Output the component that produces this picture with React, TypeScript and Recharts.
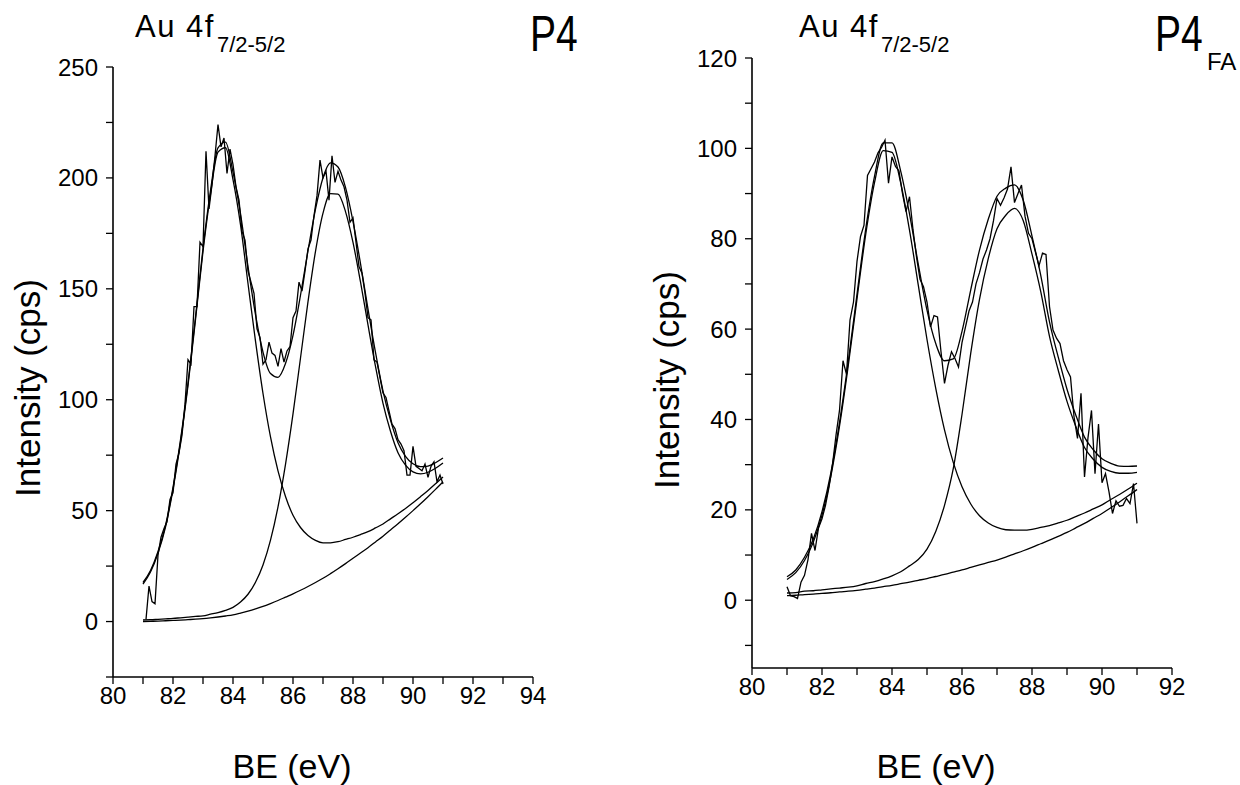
import { LineChart, Line, XAxis, YAxis } from "recharts";

// binding energy grid of the fitted curves (eV)
const fitBe = [
  81.0, 81.25, 81.5, 81.75, 82.0, 82.25, 82.5, 82.75, 83.0, 83.25, 83.5, 83.75,
  84.0, 84.25, 84.5, 84.75, 85.0, 85.25, 85.5, 85.75, 86.0, 86.25, 86.5, 86.75,
  87.0, 87.25, 87.5, 87.75, 88.0, 88.25, 88.5, 88.75, 89.0, 89.25, 89.5, 89.75,
  90.0, 90.25, 90.5, 90.75, 91.0,
];

// binding energy grid of the measured spectra (eV)
const rawBe = [
  81.0, 81.1, 81.2, 81.3, 81.4, 81.5, 81.6, 81.7, 81.8, 81.9,
  82.0, 82.1, 82.2, 82.3, 82.4, 82.5, 82.6, 82.7, 82.8, 82.9,
  83.0, 83.1, 83.2, 83.3, 83.4, 83.5, 83.6, 83.7, 83.8, 83.9,
  84.0, 84.1, 84.2, 84.3, 84.4, 84.5, 84.6, 84.7, 84.8, 84.9,
  85.0, 85.1, 85.2, 85.3, 85.4, 85.5, 85.6, 85.7, 85.8, 85.9,
  86.0, 86.1, 86.2, 86.3, 86.4, 86.5, 86.6, 86.7, 86.8, 86.9,
  87.0, 87.1, 87.2, 87.3, 87.4, 87.5, 87.6, 87.7, 87.8, 87.9,
  88.0, 88.1, 88.2, 88.3, 88.4, 88.5, 88.6, 88.7, 88.8, 88.9,
  89.0, 89.1, 89.2, 89.3, 89.4, 89.5, 89.6, 89.7, 89.8, 89.9,
  90.0, 90.1, 90.2, 90.3, 90.4, 90.5, 90.6, 90.7, 90.8, 90.9,
  91.0,
];

// ---- P4 ----
const p4Raw = [
  null, 1, 16, 9, 8, 30, 38, 42, 45, 55,
  58, 71, 76, 84, 98, 118, 116, 142, 142, 171,
  169, 212, 186, 197, 210, 224, 214, 218, 202, 213,
  206, 196, 190, 176, 172, 158, 153, 148, 132, 128,
  116, 118, 126, 121, 120, 115, 123, 117, 122, 124,
  137, 140, 153, 149, 158, 168, 172, 183, 192, 208,
  200, 203, 190, 210, 198, 203, 199, 196, 190, 180,
  182, 171, 160, 157, 148, 137, 136, 118, 117, 110,
  103, 101, 95, 89, 87, 82, 80, 77, 66, 66,
  79, 70, 69, 68, 71, 65, 70, 72, 63, 66,
  62,
];
const p4Envelope = [
  17.6, 23.0, 31.6, 43.4, 60.5, 81.9, 107.5, 137.3, 168.2, 194.3, 213.5, 216.1,
  202.6, 183.9, 160.0, 138.4, 121.5, 111.8, 110.1, 116.3, 129.0, 147.1, 167.2, 185.9,
  200.1, 206.8, 204.9, 195.7, 180.4, 161.4, 140.9, 121.3, 103.9, 90.8, 80.6, 74.5,
  71.1, 69.8, 70.1, 71.6, 73.7,
];
const p4Peak1 = [
  16.9, 22.3, 30.8, 42.6, 59.6, 80.9, 106.4, 136.1, 166.9, 192.7, 211.6, 213.6,
  199.2, 178.9, 152.4, 126.4, 102.8, 83.2, 67.9, 56.4, 47.9, 42.4, 38.8, 36.6,
  35.5, 35.5, 36.0, 37.0, 38.0, 39.2, 40.5, 42.2, 44.0, 46.3, 48.6, 51.0,
  53.6, 56.3, 59.1, 62.1, 65.2,
];
const p4Peak2 = [
  0.7, 0.8, 1.0, 1.2, 1.4, 1.7, 2.0, 2.3, 2.6, 3.3, 4.0, 5.0,
  6.4, 8.8, 12.3, 17.7, 25.5, 36.7, 51.7, 70.9, 93.6, 118.8, 144.2, 166.9,
  184.1, 192.9, 192.7, 184.8, 170.9, 153.1, 133.7, 115.0, 98.4, 85.8, 76.1, 70.5,
  67.5, 66.6, 67.3, 69.1, 71.5,
];
const p4Background = [
  0.0, 0.1, 0.2, 0.35, 0.5, 0.65, 0.85, 1.05, 1.3, 1.65, 2.05, 2.5,
  3.0, 3.8, 4.7, 5.7, 6.8, 8.1, 9.5, 11.0, 12.5, 14.1, 15.8, 17.6,
  19.5, 21.6, 23.8, 26.1, 28.5, 30.9, 33.3, 35.9, 38.5, 41.3, 44.1, 47.0,
  50.0, 53.1, 56.3, 59.6, 63.0,
];

// ---- P4 FA ----
const p4faRaw = [
  3.0, 1.0, 0.8, 0.4, 4.0, 5.5, 9.0, 14.8, 11.0, 16.0,
  18.0, 21.0, 25.0, 30.0, 36.5, 42.0, 53.0, 50.0, 62.0, 66.0,
  75.0, 80.5, 83.0, 94.0, 95.5, 97.0, 99.0, 100.2, 101.8, 92.3,
  98.1, 96.0, 95.0, 90.0, 86.0, 89.3, 82.0, 76.0, 71.0, 69.4,
  66.0, 60.5, 63.0, 62.7, 55.0, 48.0, 52.0, 55.0, 53.5, 51.6,
  57.0, 60.5, 64.0, 66.0, 70.0, 72.5, 75.5, 77.5, 80.0, 84.0,
  88.9, 87.4, 89.0, 91.0, 95.9, 88.0, 90.0, 91.9, 85.0, 81.2,
  80.0, 77.0, 74.0, 76.8, 76.5, 65.0, 59.8, 58.0, 56.8, 53.0,
  51.0, 49.4, 40.6, 35.8, 45.8, 27.3, 36.0, 42.0, 28.0, 39.0,
  26.0, 28.0, 24.0, 19.2, 22.0, 20.8, 21.0, 22.5, 21.4, 25.8,
  17.0,
];
const p4faEnvelope = [
  5.2, 6.7, 9.5, 13.5, 19.6, 28.1, 39.3, 52.8, 67.7, 82.2, 93.8, 101.2,
  101.2, 94.9, 85.5, 74.4, 64.2, 56.8, 53.0, 53.4, 59.5, 68.7, 77.5, 84.3,
  89.4, 91.2, 91.9, 88.5, 80.6, 71.9, 61.6, 53.8, 46.7, 41.0, 36.1, 33.3,
  31.3, 30.3, 29.7, 29.6, 29.7,
];
const p4faPeak1 = [
  4.6, 6.1, 8.8, 12.8, 18.8, 27.3, 38.5, 51.9, 66.7, 81.0, 92.4, 99.5,
  99.1, 92.3, 81.9, 69.8, 57.7, 46.9, 37.7, 30.5, 25.1, 21.3, 18.7, 17.1,
  16.1, 15.6, 15.5, 15.5, 15.7, 16.1, 16.5, 17.1, 17.7, 18.5, 19.3, 20.2,
  21.1, 22.3, 23.4, 24.6, 25.9,
];
const p4faPeak2 = [
  1.6, 1.7, 2.0, 2.1, 2.3, 2.5, 2.7, 2.9, 3.2, 3.7, 4.1, 4.7,
  5.4, 6.3, 7.6, 9.0, 11.3, 15.2, 21.0, 29.1, 41.1, 54.7, 66.6, 75.6,
  82.2, 85.2, 86.7, 84.0, 76.6, 68.3, 58.4, 50.9, 44.0, 38.5, 33.8, 31.2,
  29.4, 28.5, 28.1, 28.1, 28.3,
];
const p4faBackground = [
  1.0, 1.1, 1.25, 1.35, 1.5, 1.65, 1.85, 2.0, 2.2, 2.45, 2.7, 3.0,
  3.3, 3.65, 4.0, 4.4, 4.8, 5.25, 5.7, 6.2, 6.7, 7.25, 7.8, 8.35,
  8.9, 9.55, 10.25, 10.95, 11.7, 12.5, 13.3, 14.15, 15.0, 16.0, 17.0, 18.1,
  19.2, 20.45, 21.75, 23.1, 24.5,
];

// axis ticks
const p4XTicks = [80, 81, 82, 83, 84, 85, 86, 87, 88, 89, 90, 91, 92, 93, 94];
const p4YTicks = [-25, 0, 25, 50, 75, 100, 125, 150, 175, 200, 225, 250];
const p4faXTicks = [80, 81, 82, 83, 84, 85, 86, 87, 88, 89, 90, 91, 92];
const p4faYTicks = [-10, 0, 10, 20, 30, 40, 50, 60, 70, 80, 90, 100, 110, 120];

const FONT = "'Liberation Sans', Arial, sans-serif";

const toRows = (xs: number[], ys: (number | null)[]) =>
  xs.map((x, i) => ({ be: x, v: ys[i] }));

interface PanelProps {
  left: number;
  margin: { top: number; right: number; bottom: number; left: number };
  xDomain: [number, number];
  yDomain: [number, number];
  xTicks: number[];
  yTicks: number[];
  yLabelStep: number;
  raw: (number | null)[];
  envelope: number[];
  peak1: number[];
  peak2: number[];
  background: number[];
}

function Panel(p: PanelProps) {
  const tickStyle = { fill: "#000", fontSize: 24, fontFamily: FONT };
  const fits = [p.background, p.peak1, p.peak2, p.envelope];
  return (
    <div style={{ position: "absolute", left: p.left, top: 0 }}>
      <LineChart width={620} height={785} margin={p.margin}>
        <XAxis
          type="number"
          dataKey="be"
          domain={p.xDomain}
          ticks={p.xTicks}
          interval={0}
          tickFormatter={(v) => (v % 2 === 0 ? String(v) : "")}
          tickSize={7}
          tickMargin={3}
          tick={tickStyle}
          tickLine={{ stroke: "#000", strokeWidth: 1.3 }}
          axisLine={{ stroke: "#000", strokeWidth: 1.6 }}
          height={60}
          allowDataOverflow
        />
        <YAxis
          type="number"
          domain={p.yDomain}
          ticks={p.yTicks}
          interval={0}
          tickFormatter={(v) => (v >= 0 && v % p.yLabelStep === 0 ? String(v) : "")}
          tickSize={7}
          tickMargin={8}
          tick={tickStyle}
          tickLine={{ stroke: "#000", strokeWidth: 1.3 }}
          axisLine={{ stroke: "#000", strokeWidth: 1.6 }}
          width={60}
          allowDataOverflow
        />
        {fits.map((ys, i) => (
          <Line
            key={i}
            data={toRows(fitBe, ys)}
            dataKey="v"
            type="monotone"
            stroke="#000"
            strokeWidth={1.3}
            dot={false}
            activeDot={false}
            isAnimationActive={false}
          />
        ))}
        <Line
          data={toRows(rawBe, p.raw)}
          dataKey="v"
          type="linear"
          stroke="#000"
          strokeWidth={1.3}
          dot={false}
          activeDot={false}
          isAnimationActive={false}
        />
      </LineChart>
    </div>
  );
}

const abs = (style: React.CSSProperties): React.CSSProperties => ({
  position: "absolute",
  fontFamily: FONT,
  color: "#000",
  whiteSpace: "nowrap",
  lineHeight: 1,
  ...style,
});

const sub = (size: number, drop: number): React.CSSProperties => ({
  fontSize: size,
  position: "relative",
  top: drop,
  letterSpacing: 0,
  marginLeft: 2,
});

export default function App() {
  return (
    <div
      style={{
        position: "absolute",
        left: 0,
        top: 0,
        width: 1240,
        height: 785,
        background: "#fff",
        overflow: "hidden",
      }}
    >
      <Panel
        left={0}
        margin={{ top: 67, right: 87, bottom: 48, left: 53 }}
        xDomain={[80, 94]}
        yDomain={[-25, 250]}
        xTicks={p4XTicks}
        yTicks={p4YTicks}
        yLabelStep={50}
        raw={p4Raw}
        envelope={p4Envelope}
        peak1={p4Peak1}
        peak2={p4Peak2}
        background={p4Background}
      />
      <Panel
        left={620}
        margin={{ top: 58, right: 68, bottom: 57, left: 72 }}
        xDomain={[80, 92]}
        yDomain={[-15, 120]}
        xTicks={p4faXTicks}
        yTicks={p4faYTicks}
        yLabelStep={20}
        raw={p4faRaw}
        envelope={p4faEnvelope}
        peak1={p4faPeak1}
        peak2={p4faPeak2}
        background={p4faBackground}
      />

      {/* titles */}
      <div style={abs({ left: 135, top: 11, fontSize: 31, letterSpacing: 1.5 })}>
        Au 4f<span style={sub(22, 15)}>7/2-5/2</span>
      </div>
      <div
        style={abs({
          left: 530,
          top: 9,
          fontSize: 50,
          transform: "scaleX(0.78)",
          transformOrigin: "left top",
        })}
      >
        P4
      </div>
      <div style={abs({ left: 799, top: 11, fontSize: 31, letterSpacing: 1.5 })}>
        Au 4f<span style={sub(22, 15)}>7/2-5/2</span>
      </div>
      <div
        style={abs({
          left: 1155,
          top: 9,
          fontSize: 50,
          transform: "scaleX(0.78)",
          transformOrigin: "left top",
        })}
      >
        P4
      </div>
      <div style={abs({ left: 1207, top: 50, fontSize: 24 })}>FA</div>

      {/* axis labels */}
      <div
        style={abs({
          left: 27,
          top: 388,
          fontSize: 35,
          transform: "translate(-50%, -50%) rotate(-90deg)",
        })}
      >
        Intensity (cps)
      </div>
      <div
        style={abs({
          left: 666,
          top: 380,
          fontSize: 35,
          transform: "translate(-50%, -50%) rotate(-90deg)",
        })}
      >
        Intensity (cps)
      </div>
      <div style={abs({ left: 292, top: 766, fontSize: 34, transform: "translate(-50%, -50%)" })}>
        BE (eV)
      </div>
      <div style={abs({ left: 936, top: 766, fontSize: 34, transform: "translate(-50%, -50%)" })}>
        BE (eV)
      </div>
    </div>
  );
}
